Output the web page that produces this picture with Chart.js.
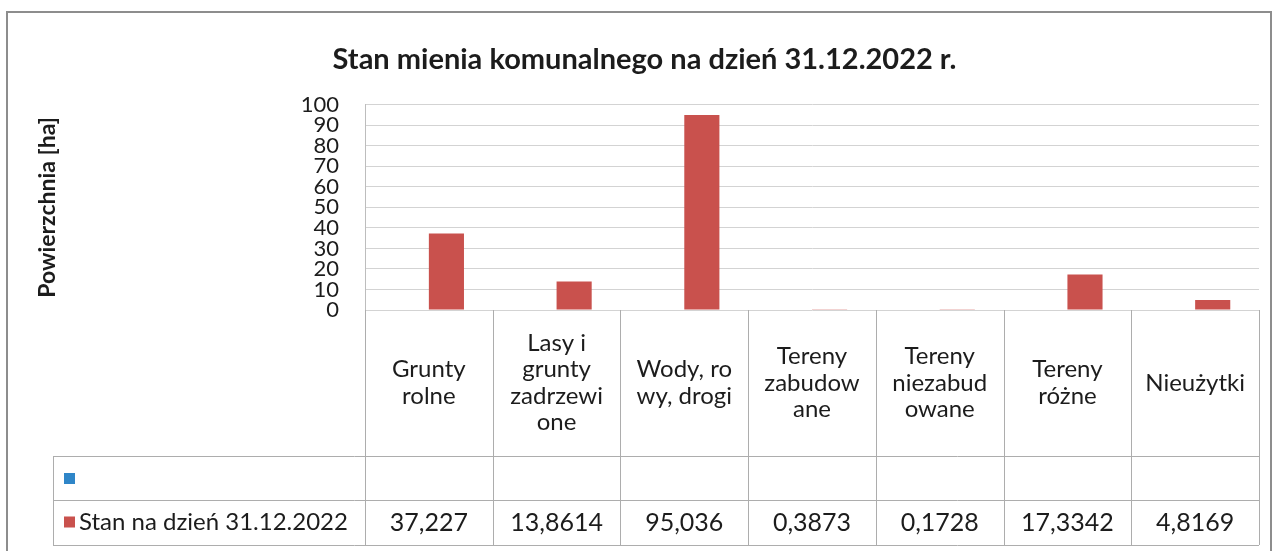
<!DOCTYPE html>
<html lang="pl">
<head>
<meta charset="utf-8">
<title>Stan mienia komunalnego</title>
<script src="https://cdn.jsdelivr.net/npm/chart.js@4.4.0/dist/chart.umd.min.js"></script>
<style>
  html, body { margin: 0; padding: 0; background: #fff; }
  #wrap { width: 1275px; height: 551px; }
</style>
</head>
<body>
<div id="wrap"><canvas id="mienieChart" width="1275" height="551"></canvas></div>
<script>
// Categories as they are wrapped in the Excel data table
const categories = [
    ['Grunty', 'rolne'],
    ['Lasy i', 'grunty', 'zadrzewi', 'one'],
    ['Wody, ro', 'wy, drogi'],
    ['Tereny', 'zabudow', 'ane'],
    ['Tereny', 'niezabud', 'owane'],
    ['Tereny', 'różne'],
    ['Nieużytki']
];
const seriesName = 'Stan na dzień 31.12.2022';
const seriesValues = [37.227, 13.8614, 95.036, 0.3873, 0.1728, 17.3342, 4.8169];
// first series in the sheet is empty (blue marker, no label)
const emptySeries = [null, null, null, null, null, null, null];
const yMin = 0;
const yMax = 100;
const yStep = 10;

const FONT = 'Lato';
const TEXT = '#1c1c1c';
const RED = '#c9514d';
const BLUE = '#2f86c8';

// Outer frame of the chart object
const framePlugin = {
    id: 'frame',
    beforeDraw(chart) {
        const ctx = chart.ctx;
        ctx.save();
        ctx.fillStyle = '#fff';
        ctx.fillRect(0, 0, chart.width, chart.height);
        ctx.strokeStyle = '#8d8d8d';
        ctx.lineWidth = 2;
        ctx.strokeRect(7, 12, chart.width - 11, chart.height + 20);
        ctx.restore();
    }
};

// Data table under the plot (category labels + legend rows + values)
const dataTablePlugin = {
    id: 'dataTable',
    afterDraw(chart) {
        const ctx = chart.ctx;
        const area = chart.chartArea;
        const xScale = chart.scales.x;
        const colW = (area.right - area.left) / categories.length;
        const top = area.bottom;
        const headBottom = top + 146;
        const row1Bottom = headBottom + 44;
        const row2Bottom = row1Bottom + 45;
        const tableLeft = 53;

        ctx.save();
        ctx.strokeStyle = '#adadad';
        ctx.lineWidth = 1;
        ctx.beginPath();
        for (let i = 0; i <= categories.length; i++) {
            const px = Math.round(area.left + i * colW) + 0.5;
            ctx.moveTo(px, top);
            ctx.lineTo(px, row2Bottom);
        }
        ctx.moveTo(tableLeft + 0.5, headBottom);
        ctx.lineTo(tableLeft + 0.5, row2Bottom);
        [headBottom, row1Bottom, row2Bottom].forEach(y => {
            ctx.moveTo(tableLeft, Math.round(y) + 0.5);
            ctx.lineTo(area.right, Math.round(y) + 0.5);
        });
        ctx.stroke();

        ctx.fillStyle = TEXT;
        ctx.font = '24px ' + FONT;
        ctx.textAlign = 'center';
        ctx.textBaseline = 'middle';
        const lineH = 26.5;
        const headMid = (top + headBottom) / 2;
        categories.forEach((lines, i) => {
            const cx = xScale.getPixelForValue(i);
            const y0 = headMid - (lines.length - 1) * lineH / 2;
            lines.forEach((t, j) => ctx.fillText(t, cx, y0 + j * lineH));
        });

        // values row
        const valMid = (row1Bottom + row2Bottom) / 2;
        ctx.font = '25px ' + FONT;
        seriesValues.forEach((v, i) => {
            const cx = xScale.getPixelForValue(i);
            ctx.fillText(String(v).replace('.', ','), cx, valMid);
        });

        // legend keys
        const sets = chart.data.datasets;
        ctx.fillStyle = sets[0].backgroundColor;
        ctx.fillRect(64, (headBottom + row1Bottom) / 2 - 5, 11, 11);
        ctx.fillStyle = sets[1].backgroundColor;
        ctx.fillRect(64, valMid - 6, 11, 11);
        ctx.fillStyle = TEXT;
        ctx.textAlign = 'left';
        ctx.font = '24px ' + FONT;
        ctx.fillText(sets[1].label, 79, valMid);
        ctx.restore();
    }
};

function initializeChart() {
    const ctx = document.getElementById('mienieChart');

    new Chart(ctx, {
        type: 'bar',
        data: {
            labels: categories.map(c => c.join(' ')),
            datasets: [{
                label: '',
                data: emptySeries,
                backgroundColor: BLUE
            }, {
                label: seriesName,
                data: seriesValues,
                backgroundColor: RED
            }]
        },
        options: {
            responsive: false,
            animation: false,
            categoryPercentage: 0.55,
            barPercentage: 1.0,
            layout: {
                padding: { left: 30, right: 16, top: 0, bottom: 241 }
            },
            plugins: {
                legend: { display: false },
                tooltip: { enabled: false },
                title: {
                    display: true,
                    text: 'Stan mienia komunalnego na dzień 31.12.2022 r.',
                    color: TEXT,
                    font: { family: FONT, size: 29, weight: 'bold' },
                    padding: { top: 42, bottom: 28 }
                }
            },
            scales: {
                x: {
                    display: false
                },
                y: {
                    min: yMin,
                    max: yMax,
                    afterFit: scale => { scale.width = 335; },
                    grid: { color: '#d3d3d3', drawTicks: false },
                    border: { display: true, color: '#bdbdbd' },
                    ticks: {
                        stepSize: yStep,
                        autoSkip: false,
                        padding: 26,
                        color: TEXT,
                        font: { family: FONT, size: 22, lineHeight: 0.9 }
                    },
                    title: {
                        display: true,
                        text: 'Powierzchnia [ha]',
                        color: TEXT,
                        font: { family: FONT, size: 23, weight: 'bold' },
                        padding: { top: 4, bottom: 0 }
                    }
                }
            }
        },
        plugins: [framePlugin, dataTablePlugin]
    });
}

Promise.all([
    document.fonts.load('22px Lato'),
    document.fonts.load('bold 26px Lato')
]).then(initializeChart, initializeChart);
</script>
</body>
</html>
